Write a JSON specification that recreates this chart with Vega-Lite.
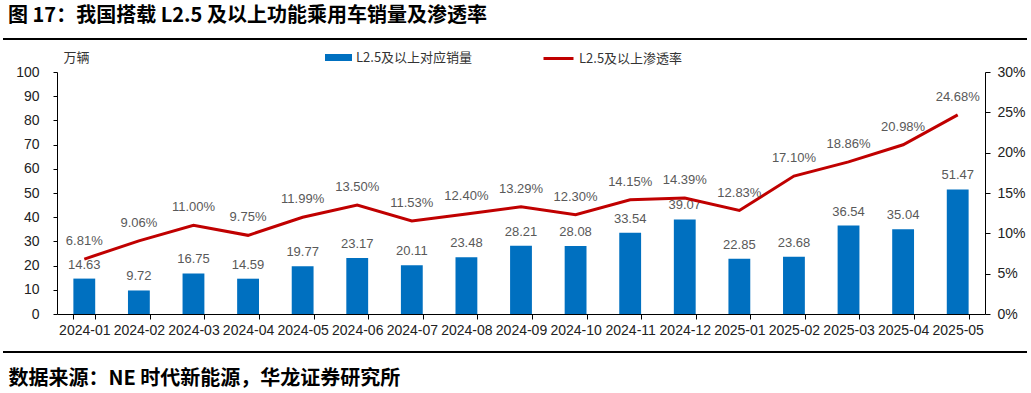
{
  "$schema": "https://vega.github.io/schema/vega-lite/v6.json",
  "autosize": "none",
  "width": 928,
  "height": 242,
  "padding": {"left": 57, "top": 72, "right": 46, "bottom": 79},
  "background": "white",
  "title": {
    "text": "图 17：我国搭载 L2.5 及以上功能乘用车销量及渗透率",
    "anchor": "start",
    "frame": "group",
    "dx": -49,
    "offset": 30,
    "dy": 18,
    "font": "Noto Sans CJK SC",
    "fontSize": 20,
    "fontWeight": "bold",
    "color": "#000000"
  },
  "config": {
    "view": {"stroke": null},
    "axis": {"labelFont": "Liberation Sans", "labelColor": "#222222", "domainColor": "#000000", "tickColor": "#000000", "grid": false}
  },
  "data": {
    "values": [
      {"month": "2024-01", "sales": 14.63, "rate": 0.0681},
      {"month": "2024-02", "sales": 9.72, "rate": 0.0906},
      {"month": "2024-03", "sales": 16.75, "rate": 0.1100},
      {"month": "2024-04", "sales": 14.59, "rate": 0.0975},
      {"month": "2024-05", "sales": 19.77, "rate": 0.1199},
      {"month": "2024-06", "sales": 23.17, "rate": 0.1350},
      {"month": "2024-07", "sales": 20.11, "rate": 0.1153},
      {"month": "2024-08", "sales": 23.48, "rate": 0.1240},
      {"month": "2024-09", "sales": 28.21, "rate": 0.1329},
      {"month": "2024-10", "sales": 28.08, "rate": 0.1230},
      {"month": "2024-11", "sales": 33.54, "rate": 0.1415},
      {"month": "2024-12", "sales": 39.07, "rate": 0.1439},
      {"month": "2025-01", "sales": 22.85, "rate": 0.1283},
      {"month": "2025-02", "sales": 23.68, "rate": 0.1710},
      {"month": "2025-03", "sales": 36.54, "rate": 0.1886},
      {"month": "2025-04", "sales": 35.04, "rate": 0.2098},
      {"month": "2025-05", "sales": 51.47, "rate": 0.2468}
    ]
  },
  "encoding": {
    "x": {
      "field": "month",
      "type": "ordinal",
      "scale": {"type": "band", "paddingInner": 0.6, "paddingOuter": 0.3},
      "axis": {
        "labelAngle": 0,
        "labelFontSize": 14,
        "labelPadding": 4,
        "tickBand": "extent",
        "tickSize": 5,
        "labelOverlap": false,
        "labelFlush": false,
        "title": "数据来源：NE 时代新能源，华龙证券研究所",
        "titleFont": "Noto Sans CJK SC",
        "titleFontSize": 20,
        "titleFontWeight": "bold",
        "titleColor": "#000000",
        "titleX": -49,
        "titleY": 64,
        "titleAlign": "left",
        "titleAnchor": "start",
        "titleBaseline": "middle"
      }
    }
  },
  "layer": [
    {
      "encoding": {
        "y": {
          "field": "sales",
          "type": "quantitative",
          "scale": {"domain": [0, 100]},
          "axis": {
            "values": [0, 10, 20, 30, 40, 50, 60, 70, 80, 90, 100],
            "labelFontSize": 14,
            "labelPadding": 14,
            "tickSize": 4,
            "title": "万辆",
            "titleFont": "Noto Sans CJK SC",
            "titleFontSize": 13,
            "titleFontWeight": "normal",
            "titleColor": "#333333",
            "titleAngle": 0,
            "titleX": 6,
            "titleY": -15,
            "titleAlign": "left",
            "titleBaseline": "middle"
          }
        }
      },
      "layer": [
        {
          "mark": {"type": "bar"},
          "encoding": {
            "fill": {
              "datum": "L2.5及以上对应销量",
              "scale": {"range": ["#0070C0"]},
              "legend": {
                "orient": "none",
                "legendX": 268,
                "legendY": -28,
                "title": null,
                "symbolType": "M-1,-0.26L1,-0.26L1,0.26L-1,0.26Z",
                "symbolSize": 729,
                "symbolStrokeWidth": 0,
                "labelFont": "Noto Sans CJK SC",
                "labelFontSize": 13,
                "labelColor": "#333333",
                "labelOffset": 4,
                "padding": 0
              }
            }
          }
        },
        {
          "mark": {"type": "text", "baseline": "middle", "dy": -14, "font": "Liberation Sans", "fontSize": 13, "color": "#595959"},
          "encoding": {"text": {"field": "sales", "type": "quantitative", "format": ".2f"}}
        }
      ]
    },
    {
      "encoding": {
        "y": {
          "field": "rate",
          "type": "quantitative",
          "scale": {"domain": [0, 0.3]},
          "axis": {
            "orient": "right",
            "values": [0, 0.05, 0.1, 0.15, 0.2, 0.25, 0.3],
            "format": ".0%",
            "labelFontSize": 14,
            "labelPadding": 7,
            "tickSize": 5,
            "title": null
          }
        }
      },
      "layer": [
        {
          "mark": {"type": "line", "strokeWidth": 3},
          "encoding": {
            "stroke": {
              "datum": "L2.5及以上渗透率",
              "scale": {"range": ["#C00000"]},
              "legend": {
                "orient": "none",
                "legendX": 485,
                "legendY": -30,
                "title": null,
                "symbolType": "stroke",
                "symbolSize": 900,
                "symbolStrokeWidth": 3,
                "labelFont": "Noto Sans CJK SC",
                "labelFontSize": 13,
                "labelColor": "#333333",
                "labelOffset": 4,
                "padding": 0
              }
            }
          }
        },
        {
          "mark": {"type": "text", "baseline": "middle", "dy": -18, "font": "Liberation Sans", "fontSize": 13, "color": "#595959"},
          "encoding": {"text": {"field": "rate", "type": "quantitative", "format": ".2%"}}
        }
      ]
    },
    {
      "mark": {"type": "rule", "stroke": "#000000", "strokeWidth": 1.5},
      "encoding": {"x": {"value": -54}, "x2": {"value": 970}, "y": {"value": -33}}
    },
    {
      "mark": {"type": "rule", "stroke": "#000000", "strokeWidth": 1.5},
      "encoding": {"x": {"value": -54}, "x2": {"value": 970}, "y": {"value": 280}}
    }
  ],
  "resolve": {"scale": {"y": "independent"}}
}
